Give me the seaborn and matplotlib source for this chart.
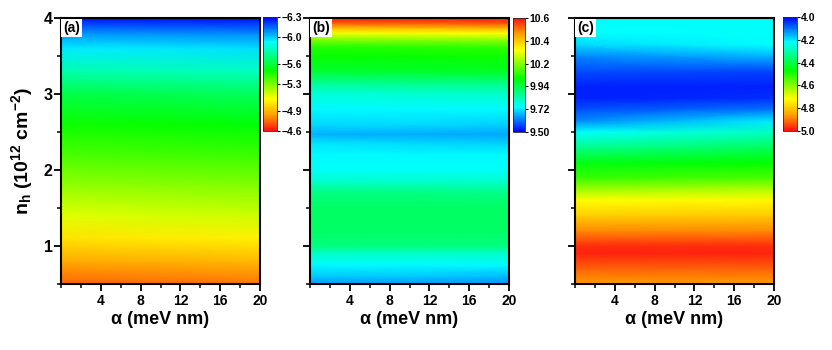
import numpy as np
import matplotlib
matplotlib.use("Agg")
import matplotlib.pyplot as plt
from matplotlib.colors import LinearSegmentedColormap
from matplotlib.ticker import MultipleLocator
import seaborn as sns

sns.set_style("ticks")
plt.rcParams['font.family'] = ['Liberation Sans', 'DejaVu Sans']
plt.rcParams['font.weight'] = 'bold'
plt.rcParams['mathtext.default'] = 'regular'
plt.rcParams['text.color'] = 'black'
plt.rcParams['axes.labelcolor'] = 'black'
plt.rcParams['xtick.color'] = 'black'
plt.rcParams['ytick.color'] = 'black'

# ---------------- data ----------------
alpha = [0, 10, 20]

n_a = [0.5, 0.8, 1.1, 1.4, 1.8, 2.2, 2.6, 3.0, 3.3, 3.6, 3.8, 4.0]
a_left = [-4.74, -4.87, -5.01, -5.13, -5.26, -5.38, -5.48, -5.62, -5.79, -5.95, -6.08, -6.27]
a_mid = [-4.755, -4.885, -5.025, -5.145, -5.275, -5.395, -5.495, -5.635, -5.805, -5.96, -6.09, -6.275]
a_right = [-4.77, -4.90, -5.04, -5.16, -5.29, -5.41, -5.51, -5.65, -5.82, -5.97, -6.10, -6.28]

n_b = [0.5, 0.6, 0.75, 0.9, 1.0, 1.2, 1.5, 1.7, 1.85, 2.0, 2.2, 2.35, 2.47, 2.6, 2.8,
       3.0, 3.15, 3.3, 3.5, 3.62, 3.72, 3.8, 3.87, 3.93, 4.0]
b_left = [9.65, 9.69, 9.74, 9.80, 9.88, 9.91, 9.91, 9.88, 9.80, 9.75, 9.74, 9.72, 9.67, 9.71, 9.74,
          9.78, 9.86, 9.96, 10.02, 10.05, 10.16, 10.27, 10.40, 10.51, 10.59]
b_mid = [9.65, 9.69, 9.74, 9.80, 9.88, 9.91, 9.91, 9.88, 9.80, 9.75, 9.74, 9.71, 9.665, 9.71, 9.74,
         9.79, 9.87, 9.97, 10.02, 10.06, 10.17, 10.28, 10.41, 10.51, 10.59]
b_right = [9.64, 9.68, 9.74, 9.80, 9.88, 9.91, 9.91, 9.87, 9.80, 9.75, 9.74, 9.70, 9.66, 9.70, 9.74,
           9.80, 9.88, 9.98, 10.03, 10.07, 10.18, 10.29, 10.42, 10.52, 10.59]

n_c = [0.5, 0.7, 0.9, 1.0, 1.2, 1.4, 1.6, 1.75, 1.9, 2.1, 2.3, 2.5, 2.65, 2.8, 2.95,
       3.1, 3.3, 3.5, 3.65, 3.8, 4.0]
c_left = [4.86, 4.92, 4.98, 4.97, 4.88, 4.79, 4.72, 4.62, 4.52, 4.45, 4.33, 4.22, 4.12, 4.07, 4.03,
          4.03, 4.07, 4.12, 4.19, 4.22, 4.23]
c_mid = [4.86, 4.92, 4.98, 4.97, 4.88, 4.795, 4.725, 4.63, 4.53, 4.46, 4.355, 4.25, 4.16, 4.085, 4.035,
         4.03, 4.065, 4.14, 4.205, 4.22, 4.23]
c_right = [4.86, 4.92, 4.98, 4.97, 4.88, 4.80, 4.73, 4.64, 4.54, 4.47, 4.38, 4.28, 4.20, 4.10, 4.04,
           4.03, 4.06, 4.16, 4.22, 4.23, 4.23]

cbar_a_ticks = [-6.3, -6.0, -5.6, -5.3, -4.9, -4.6]
cbar_b_ticks = [9.50, 9.72, 9.94, 10.16, 10.38, 10.60]
cbar_b_labels = ["9.50", "9.72", "9.94", "10.2", "10.4", "10.6"]
cbar_c_ticks = [4.0, 4.2, 4.4, 4.6, 4.8, 5.0]

x_ticks = [4, 8, 12, 16, 20]
y_ticks = [1, 2, 3, 4]

# ---------------- style ----------------
cmap = LinearSegmentedColormap.from_list(
    "origin_rainbow",
    [(0.0, "#0000ff"), (0.22, "#00ffff"), (0.47, "#00ff00"),
     (0.72, "#ffff00"), (0.86, "#ffa000"), (1.0, "#ff1010")])

fig = plt.figure(figsize=(8.32, 3.5), dpi=100)
W, H = 832.0, 350.0

def fr(x0, y0, x1, y1):
    return [x0 / W, 1 - y1 / H, (x1 - x0) / W, (y1 - y0) / H]

panels = [
    dict(n=n_a, cols=[a_left, a_mid, a_right], vmin=-6.3, vmax=-4.6, box=(61, 18, 260, 284),
         cbox=(263, 17, 277, 131), ticks=cbar_a_ticks, labels=None, inv=True, label="(a)"),
    dict(n=n_b, cols=[b_left, b_mid, b_right], vmin=9.5, vmax=10.6, box=(310, 18, 509, 284),
         cbox=(513, 18, 525, 132), ticks=cbar_b_ticks, labels=cbar_b_labels, inv=False, label="(b)"),
    dict(n=n_c, cols=[c_left, c_mid, c_right], vmin=4.0, vmax=5.0, box=(575, 18, 774, 284),
         cbox=(783, 17, 797, 131), ticks=cbar_c_ticks, labels=None, inv=True, label="(c)"),
]

for i, p in enumerate(panels):
    ax = fig.add_axes(fr(*p["box"]))
    X, Y = np.meshgrid(np.array(alpha, float), np.array(p["n"], float))
    Z = np.column_stack(p["cols"])
    mesh = ax.pcolormesh(X, Y, Z, shading="gouraud", cmap=cmap, vmin=p["vmin"], vmax=p["vmax"],
                         rasterized=True)
    ax.set_xlim(0, 20)
    ax.set_ylim(0.5, 4.0)
    ax.set_xticks(x_ticks)
    ax.xaxis.set_minor_locator(MultipleLocator(2))
    ax.set_yticks(y_ticks)
    ax.yaxis.set_minor_locator(MultipleLocator(0.5))
    ax.tick_params(which="major", direction="out", length=5, width=1.3, colors="black")
    ax.tick_params(which="minor", direction="out", length=3, width=1.1, colors="black")
    ax.tick_params(axis="x", labelsize=10, pad=2)
    ax.tick_params(axis="y", labelsize=11.5, pad=1)
    for s in ax.spines.values():
        s.set_linewidth(1.5)
        s.set_color("black")
        s.set_visible(True)
    for lab in ax.get_xticklabels() + ax.get_yticklabels():
        lab.set_fontweight("bold")
    if i > 0:
        ax.set_yticklabels([])
    else:
        ax.set_ylabel(r"n$_h$ (10$^{12}$ cm$^{-2}$)", fontsize=14, fontweight="bold",
                      labelpad=6, color="black")
    ax.set_xlabel(r"α (meV nm)", fontsize=13, fontweight="bold", labelpad=2, color="black")
    ax.text(0.012, 0.988, p["label"], transform=ax.transAxes, ha="left", va="top",
            fontsize=10, fontweight="bold", color="black",
            bbox=dict(boxstyle="square,pad=0.15", fc="white", ec="none"))

    cax = fig.add_axes(fr(*p["cbox"]))
    cb = fig.colorbar(mesh, cax=cax, ticks=p["ticks"])
    if p["labels"] is not None:
        cb.set_ticklabels(p["labels"])
    if p["inv"]:
        cax.invert_yaxis()
    cb.outline.set_linewidth(0.6)
    cax.tick_params(length=2, width=0.8, labelsize=7.5, pad=1, colors="black")
    for lab in cax.get_yticklabels():
        lab.set_fontweight("bold")

fig.savefig("out.png", dpi=100)
